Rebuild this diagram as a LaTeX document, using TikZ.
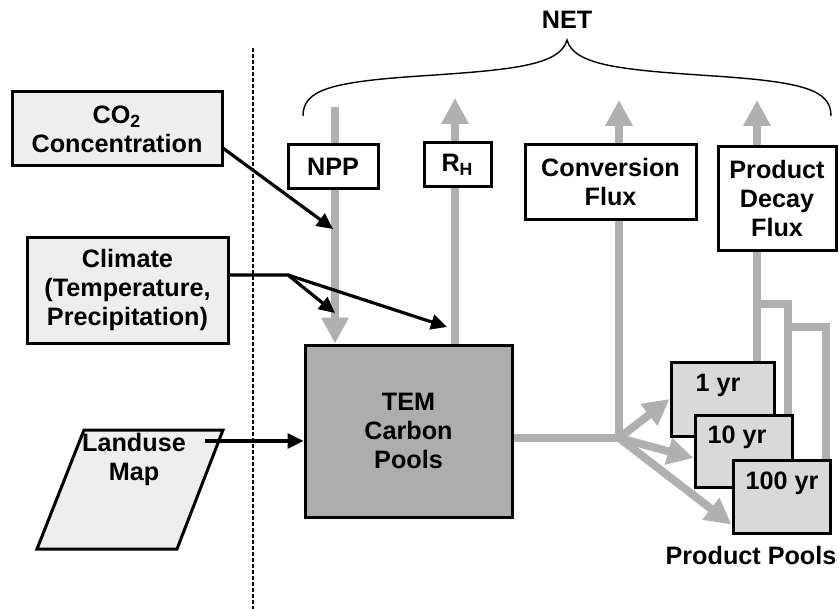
\documentclass[tikz,border=0pt]{standalone}
\usepackage{fontspec}
\setmainfont{Liberation Sans}
\usetikzlibrary{arrows.meta}
\definecolor{inputgray}{HTML}{EEEEEE}
\definecolor{poolgray}{HTML}{D9D9D9}
\definecolor{temgray}{HTML}{ADADAD}
\definecolor{fluxgray}{HTML}{B0B0B0}
\begin{document}
\begin{tikzpicture}[x=0.5pt,y=-0.5pt,
    every node/.style={font=\fontsize{12.6}{14.5}\selectfont\bfseries, align=center},
    inbox/.style={draw, line width=1.5pt, fill=inputgray, inner sep=0pt},
    fluxbox/.style={draw, line width=1.5pt, fill=white, inner sep=0pt},
    poolbox/.style={draw, line width=1.5pt, fill=poolgray, inner sep=0pt},
    flux/.style={draw=fluxgray, line width=4pt, -{Triangle[length=13pt,width=13pt]}},
    fluxline/.style={draw=fluxgray, line width=4pt},
    driver/.style={line width=1.6pt, -{Triangle[length=8pt,width=7.5pt]}}]

      \useasboundingbox (0,0) rectangle (839,609);
      \draw[line width=0.6pt, dash pattern=on 2pt off 1pt] (253,48) -- (253,609);

      % inputs
      \node[inbox, minimum width=105pt, minimum height=37pt] (co2) at (117,129) {CO\textsubscript{2}\\Concentration};
      \node[inbox, minimum width=100.5pt, minimum height=53pt] (climate) at (127.5,290) {Climate\\(Temperature,\\Precipitation)};
      \draw[line width=1.5pt, fill=inputgray] (84,430) -- (223,430) -- (177,549) -- (37,549) -- cycle;
      \node (landuse) at (134,459) {Landuse\\Map};

      % model and pools
      \node[draw, line width=1.5pt, fill=temgray, minimum width=103.5pt, minimum height=86pt] (tem) at (408.5,431) {TEM\\Carbon\\Pools};
      \node[poolbox, minimum width=51.5pt, minimum height=37pt] (p1) at (722.5,399) {};
      \node (p1t) at (718,385) {1 yr};
      \node[poolbox, minimum width=48.5pt, minimum height=36pt] (p2) at (743.5,451) {};
      \node (p2t) at (737,437) {10 yr};
      \node[poolbox, minimum width=48.5pt, minimum height=36.5pt] (p3) at (781.5,496.5) {};
      \node (p3t) at (782,483) {100 yr};
      \node (pools) at (751,555) {Product Pools};

      % carbon fluxes
      \coordinate (jn) at (619,438);
      \draw[fluxline] (tem.east |- jn) -- (jn);
      \draw[flux] (jn) -- (p1.west);
      \draw[flux] (jn) -- ([yshift=-3.5pt]p2.west);
      \draw[flux] (jn) -- ([yshift=-14pt]p3.west);
      \coordinate (npp-top) at (335,107);
      \draw[flux] (npp-top) -- (npp-top |- tem.north);
      \coordinate (rh-tip) at (455,98);
      \draw[flux] (rh-tip |- tem.north) -- (rh-tip);
      \coordinate (conv-tip) at (619,100);
      \draw[flux] (jn) -- (conv-tip);
      \coordinate (dec-tip) at (757,100);
      \draw[flux] (dec-tip |- p1.north) -- (dec-tip);
      \coordinate (b2) at (788,304);
      \coordinate (b3) at (826,327);
      \draw[fluxline] (b2 |- p2.north) -- (b2) -- (b2 -| dec-tip);
      \draw[fluxline] (b3 |- p3.north) -- (b3) -- (b3 -| b2);

      \node[fluxbox, minimum width=45pt, minimum height=22pt] (npp) at (333,167) {NPP};
      \node[fluxbox, minimum width=33.5pt, minimum height=22pt] (rh) at (457.5,165) {R\textsubscript{H}};
      \node[fluxbox, minimum width=85.5pt, minimum height=37pt] (conv) at (610.5,182) {Conversion\\Flux};
      \node[fluxbox, minimum width=59pt, minimum height=51.5pt] (decay) at (777,198.5) {Product\\Decay\\Flux};

      % drivers
      \coordinate (co2-out) at ([yshift=9.5pt]co2.south east);
      \coordinate (npp-in) at (333,229);
      \draw[driver] (co2-out) -- (npp-in);
      \coordinate (clim-out) at ([yshift=7.5pt]climate.east);
      \coordinate (clim-split) at (288,275);
      \coordinate (tem-in) at (335,313);
      \coordinate (rh-in) at (447,327);
      \draw[driver] (clim-out) -- (clim-split) -- (tem-in);
      \draw[driver] (clim-split) -- (rh-in);
      \coordinate (lu-out) at (205,441);
      \draw[driver] (lu-out) -- (lu-out -| tem.west);

      \node (net) at (567,20) {NET};
      \draw[line width=0.7pt] (303,116) .. controls (303,90) and (330,82) .. (420,76)
        .. controls (510,70) and (560,66) .. (567,40)
        .. controls (574,66) and (624,70) .. (714,76)
        .. controls (804,82) and (831,90) .. (831,116);

    \end{tikzpicture}
\end{document}
